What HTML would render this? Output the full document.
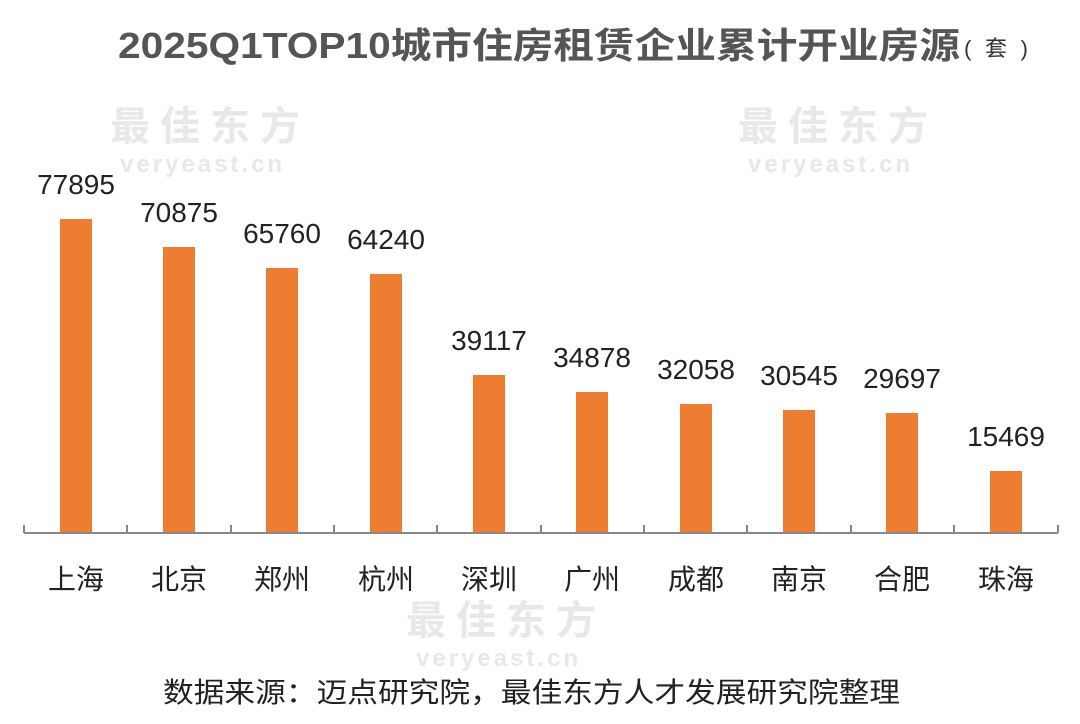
<!DOCTYPE html>
<html><head><meta charset="utf-8"><style>
html,body{margin:0;padding:0;background:#fff;}
svg{display:block;}
</style></head><body>
<svg width="1080" height="724" xmlns="http://www.w3.org/2000/svg" font-family="Liberation Sans, Noto Sans CJK SC, sans-serif">
<g fill="#e8e8e8" font-weight="bold">
<text x="110" y="140" font-size="40" letter-spacing="10">最佳东方</text>
<text x="120" y="172" font-size="24" letter-spacing="3">veryeast.cn</text>
<text x="738" y="140" font-size="40" letter-spacing="10">最佳东方</text>
<text x="748" y="172" font-size="24" letter-spacing="3">veryeast.cn</text>
<text x="406" y="634" font-size="40" letter-spacing="10">最佳东方</text>
<text x="416" y="666" font-size="24" letter-spacing="3">veryeast.cn</text>
</g>
<text x="118" y="58" font-size="36" font-weight="bold" fill="#555" textLength="842" lengthAdjust="spacingAndGlyphs">2025Q1TOP10城市住房租赁企业累计开业房源</text>
<text x="964" y="56" font-size="22" fill="#333" textLength="64" lengthAdjust="spacing">( 套 )</text>
<g fill="#ED7D31">
<rect x="60" y="219" width="32" height="314"/>
<rect x="163" y="247" width="32" height="286"/>
<rect x="266" y="268" width="32" height="265"/>
<rect x="370" y="274" width="32" height="259"/>
<rect x="473" y="375" width="32" height="158"/>
<rect x="576" y="392" width="32" height="141"/>
<rect x="680" y="404" width="32" height="129"/>
<rect x="783" y="410" width="32" height="123"/>
<rect x="886" y="413" width="32" height="120"/>
<rect x="990" y="471" width="32" height="62"/>
</g>
<g stroke="#888" stroke-width="2" fill="none">
<path d="M24 533H1058"/>
<path d="M24 525V533M127 525V533M231 525V533M334 525V533M437 525V533M541 525V533M644 525V533M747 525V533M851 525V533M954 525V533M1058 525V533"/>
</g>
<g font-size="28" fill="#222" text-anchor="middle">
<text x="76" y="194">77895</text>
<text x="179" y="222">70875</text>
<text x="282" y="243">65760</text>
<text x="386" y="249">64240</text>
<text x="489" y="350">39117</text>
<text x="592" y="367">34878</text>
<text x="696" y="379">32058</text>
<text x="799" y="385">30545</text>
<text x="902" y="388">29697</text>
<text x="1006" y="446">15469</text>
</g>
<g font-size="28" fill="#222" text-anchor="middle">
<text x="76" y="589">上海</text>
<text x="179" y="589">北京</text>
<text x="282" y="589">郑州</text>
<text x="386" y="589">杭州</text>
<text x="489" y="589">深圳</text>
<text x="592" y="589">广州</text>
<text x="696" y="589">成都</text>
<text x="799" y="589">南京</text>
<text x="902" y="589">合肥</text>
<text x="1006" y="589">珠海</text>
</g>
<text x="163" y="702" font-size="28" fill="#222" textLength="737" lengthAdjust="spacingAndGlyphs">数据来源：迈点研究院，最佳东方人才发展研究院整理</text>
</svg>
</body></html>
